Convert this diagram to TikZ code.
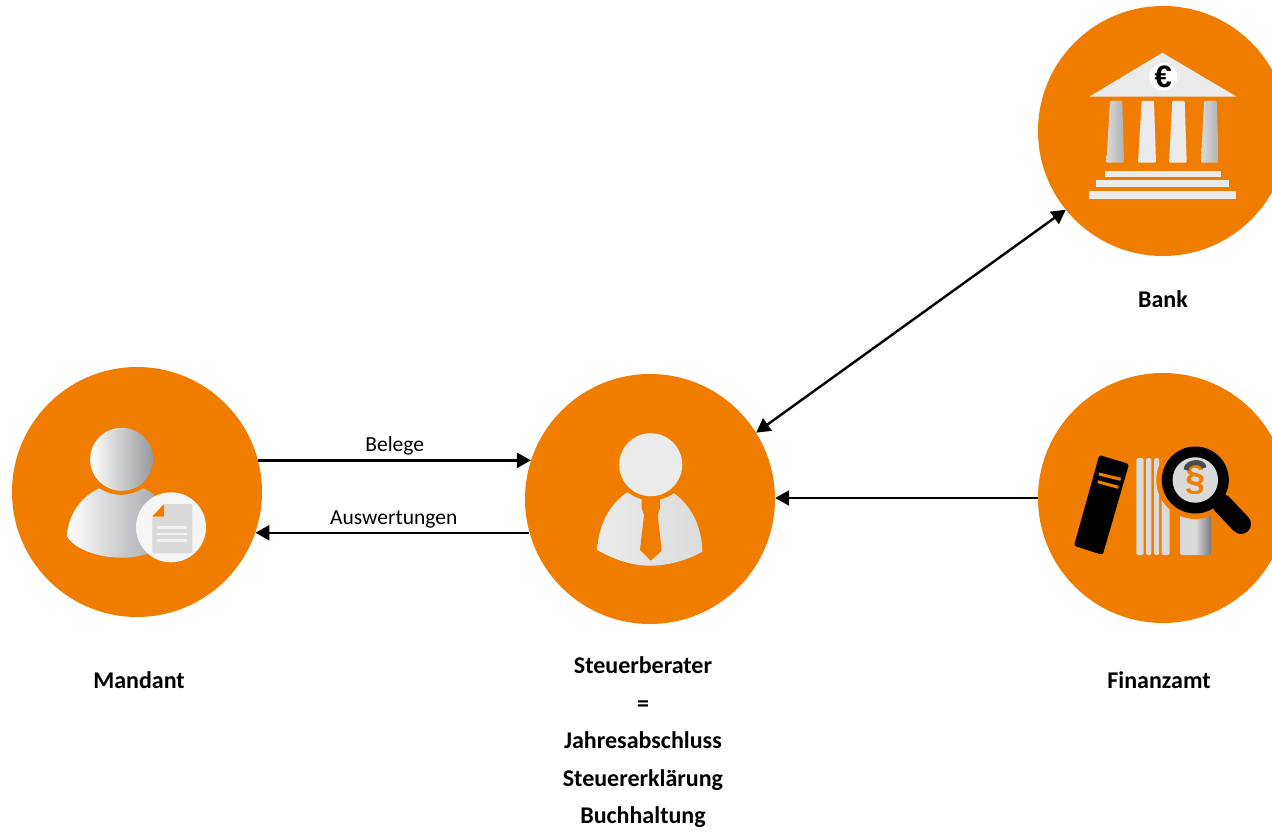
\documentclass[tikz,border=0pt]{standalone}
\usepackage{fontspec}
\setmainfont{Carlito}
\newfontfamily\symbolfont{Liberation Sans}
\usetikzlibrary{calc,positioning,arrows.meta}
\definecolor{kanzleiorange}{HTML}{F07D00}
\definecolor{iconlight}{HTML}{EBEBEB}
\definecolor{icongray}{HTML}{DADADA}
\definecolor{icondark}{HTML}{96989C}
\tikzset{
    circlenode/.style={
        circle,
        fill=kanzleiorange,
        inner sep=0pt,
        minimum size=250pt
    },
    titlenode/.style={
        align=center,
        font=\fontsize{24}{37.5}\selectfont\bfseries
    },
    flowarrow/.style={
        line width=2.4pt,
        -{Triangle[length=14pt,width=15pt]}
    },
    flowlabel/.style={
        font=\fontsize{21.5}{25}\selectfont,
        inner sep=3.5pt
    },
    iconfill/.style={fill=iconlight},
    steelfill/.style={left color=white,right color=icondark,draw=none},
    softfill/.style={left color=icongray,right color=icondark!75!white,draw=none},
    spinefill/.style={fill=icongray,rounded corners=1.5pt}
}

\begin{document}
\begin{tikzpicture}[x=1pt,y=-1pt]
        \clip (0,0) rectangle (1272,832);
        \def\gap{45}
        \node[circlenode] (mandant) at (137,492) {};
        \node[circlenode] (steuer) at (650,499) {};
        \node[circlenode] (finanzamt) at (1163,498) {};
        \node[circlenode] (bank) at (1163,131) {};

        \node[titlenode,below = 51pt of mandant,xshift=2pt] (mandanttxt) {Mandant};
        \node[titlenode,below = 29pt of steuer,xshift=-7pt] (steuertxt) {Steuerberater\\=\\Jahresabschluss\\Steuererklärung\\Buchhaltung};
        \node[titlenode,below = \gap pt of finanzamt,xshift=-4pt] (finanzamttxt) {Finanzamt};
        \node[titlenode,below = 31pt of bank] (banktxt) {Bank};

        \draw[flowarrow] (mandant.14.4 |- steuer.162.3) -- node[above,flowlabel] (belege) {Belege} (steuer.162.3);
        \draw[flowarrow] (steuer.195.8 |- mandant.-19.15) -- node[above,flowlabel,xshift=1.5pt] (auswertungen) {Auswertungen} (mandant.-19.15);
        \draw[flowarrow] (finanzamt.west) -- (steuer.east |- finanzamt.west);
        \draw[flowarrow,{Triangle[length=14pt,width=15pt]}-{Triangle[length=14pt,width=15pt]}] (steuer.32.8) -- (bank.219.9);

        % Mandant
        \path[steelfill] (121.7,459.3) circle (31.5);
        \path[steelfill] (99.3,488.3) .. controls (80,497) and (67,517) .. (67.3,536.7)
            .. controls (75,550) and (100,557.7) .. (121.7,557.7)
            .. controls (143,557.7) and (165,550) .. (176,536.7)
            .. controls (176,517) and (163,497) .. (143.3,488.3)
            .. controls (130,497) and (112,497) .. (99.3,488.3) -- cycle;
        \fill[white!96!black] (171,527.3) circle (35);
        \fill[icongray,rounded corners=1.5pt] (164,504) -- (192.3,504) -- (192.3,553.3) -- (152.3,553.3) -- (152.3,517) -- (164,517) -- cycle;
        \fill[kanzleiorange] (152.3,516.5) -- (164,504) -- (164,516.5) -- cycle;
        \foreach \y in {527.5,534,540.5}
            \draw[white!94!black,line width=2.2pt] (157,\y) -- (187,\y);

        % Steuerberater
        \fill[iconlight] (650.7,464.7) circle (31.5);
        \path[left color=iconlight,right color=icongray!90!iconlight] (627.3,492.3)
            .. controls (608,505) and (598,528) .. (597.3,550)
            .. controls (615,560) and (632,565.7) .. (650,565.7)
            .. controls (668,565.7) and (688,560) .. (702.3,551.7)
            .. controls (702,528) and (692,506) .. (674,493.3)
            .. controls (660,503) and (642,503) .. (627.3,492.3) -- cycle;
        \fill[kanzleiorange] (641.7,498) -- (660,498) -- (660,508) -- (657.7,515) -- (661.7,550.7) -- (650.7,560.7) -- (640,550) -- (644,515) -- (641.7,508) -- cycle;

        % Bank
        \fill[iconlight,rounded corners=1pt] (1162.3,52.7) -- (1236.7,96.7) -- (1089.3,96.7) -- cycle;
        \node[circle,fill=white,inner sep=0pt,minimum size=28pt,font=\symbolfont\bfseries\fontsize{31}{31}\selectfont] (euro) at (1163.3,76.7) {€};
        \path[softfill,rounded corners=1pt] (1110,101) -- (1122.3,101) -- (1124,162.7) -- (1106.3,162.7) -- cycle;
        \fill[iconfill,rounded corners=1pt] (1141.7,101) -- (1154,101) -- (1156,162.7) -- (1138,162.7) -- cycle;
        \fill[iconfill,rounded corners=1pt] (1172.3,101) -- (1184.7,101) -- (1186.7,162.7) -- (1169,162.7) -- cycle;
        \path[softfill,rounded corners=1pt] (1204,101) -- (1216.7,101) -- (1218.7,162.7) -- (1201,162.7) -- cycle;
        \fill[iconfill] (1105,171) rectangle (1221,177);
        \fill[iconfill] (1096,180) rectangle (1229,187);
        \fill[iconfill] (1089,191) rectangle (1236,199);

        % Finanzamt
        \fill[black,rounded corners=2.5pt] (1099.3,455) -- (1129,464) -- (1102.7,555) -- (1074,545.7) -- cycle;
        \draw[kanzleiorange,line width=3pt] (1099,474) -- (1120.7,479.3);
        \draw[kanzleiorange,line width=3pt] (1097.7,481.7) -- (1118.3,487.3);
        \fill[spinefill] (1136.3,458) rectangle (1143.7,555);
        \fill[spinefill] (1146,458) rectangle (1151.3,555);
        \fill[spinefill] (1154,458) rectangle (1159,555);
        \fill[spinefill] (1161.7,458) rectangle (1169.7,555);
        \path[left color=icongray,right color=icondark!80!black,middle color=icongray,rounded corners=1.5pt] (1180,510) rectangle (1211,555);
        \fill[kanzleiorange] (1195.3,480) circle (39);
        \draw[black,line width=20pt,line cap=round] (1222,504) -- (1241,524);
        \fill[black] (1195.3,480) circle (33.5);
        \node[circle,fill=icongray,inner sep=0pt,minimum size=45.5pt,text=kanzleiorange,font=\symbolfont\bfseries\fontsize{36}{36}\selectfont] (paragraf) at (1195.3,480) {\raisebox{-4pt}{§}};
        \draw[icondark!50!black,line width=5pt] (1186,470) .. controls (1186,461) and (1204,460) .. (1204,468);
\end{tikzpicture}
\end{document}
